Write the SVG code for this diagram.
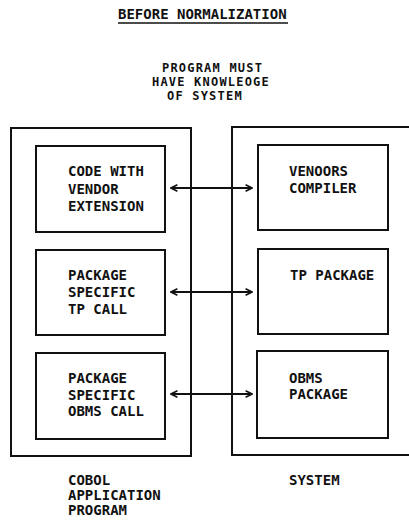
<svg xmlns="http://www.w3.org/2000/svg" width="409" height="523" viewBox="0 0 409 523">
<style>
  text { font-family: "DejaVu Sans Mono", "Liberation Mono", monospace; font-weight: bold; font-size: 14px; fill: #111; }
  .note { font-size: 12px; letter-spacing: 1.2px; }
  .box { fill: none; stroke: #111; stroke-width: 2; }
  .conn { stroke: #111; stroke-width: 2; fill: none; }
</style>
<defs>
  <marker id="ah" viewBox="0 0 10 10" refX="9" refY="5" markerWidth="8" markerHeight="8" markerUnits="userSpaceOnUse" orient="auto-start-reverse">
    <polyline points="1,1 9,5 1,9" fill="none" stroke="#111" stroke-width="2"/>
  </marker>
</defs>
<rect width="409" height="523" fill="#fff"/>

<g id="title">
  <text x="118" y="19">BEFORE NORMALIZATION</text>
  <line x1="118" y1="23" x2="288" y2="23" stroke="#111" stroke-width="1.5"/>
</g>

<g id="note">
  <text class="note" x="162" y="72">PROGRAM MUST</text>
  <text class="note" x="152" y="86">HAVE KNOWLEOGE</text>
  <text class="note" x="167" y="100">OF SYSTEM</text>
</g>

<g id="cobol-program">
  <rect class="box" x="11" y="128" width="180" height="328"/>
  <text x="68" y="485">COBOL</text>
  <text x="68" y="500">APPLICATION</text>
  <text x="68" y="515">PROGRAM</text>
</g>

<g id="system">
  <rect class="box" x="232" y="127" width="190" height="328"/>
  <text x="289" y="485">SYSTEM</text>
</g>

<g id="code-vendor-ext">
  <rect class="box" x="36" y="146" width="129" height="86"/>
  <text x="68" y="176">CODE WITH</text>
  <text x="68" y="193.5">VENDOR</text>
  <text x="68" y="211">EXTENSION</text>
</g>

<g id="tp-call">
  <rect class="box" x="36" y="250" width="129" height="85"/>
  <text x="68" y="280">PACKAGE</text>
  <text x="68" y="297">SPECIFIC</text>
  <text x="68" y="313.5">TP CALL</text>
</g>

<g id="dbms-call">
  <rect class="box" x="36" y="353" width="129" height="86"/>
  <text x="68" y="383">PACKAGE</text>
  <text x="68" y="399.5">SPECIFIC</text>
  <text x="68" y="416">OBMS CALL</text>
</g>

<g id="vendors-compiler">
  <rect class="box" x="258" y="145" width="130" height="85"/>
  <text x="289" y="176">VENOORS</text>
  <text x="289" y="192.5">COMPILER</text>
</g>

<g id="tp-package">
  <rect class="box" x="258" y="249" width="130" height="85"/>
  <text x="290" y="280">TP PACKAGE</text>
</g>

<g id="dbms-package">
  <rect class="box" x="257" y="351" width="131" height="87"/>
  <text x="289" y="383">OBMS</text>
  <text x="289" y="399">PACKAGE</text>
</g>

<g id="connectors">
  <line class="conn" x1="171" y1="188" x2="252" y2="188" marker-start="url(#ah)" marker-end="url(#ah)"/>
  <line class="conn" x1="171" y1="292" x2="252" y2="292" marker-start="url(#ah)" marker-end="url(#ah)"/>
  <line class="conn" x1="171" y1="394" x2="252" y2="394" marker-start="url(#ah)" marker-end="url(#ah)"/>
</g>
</svg>
